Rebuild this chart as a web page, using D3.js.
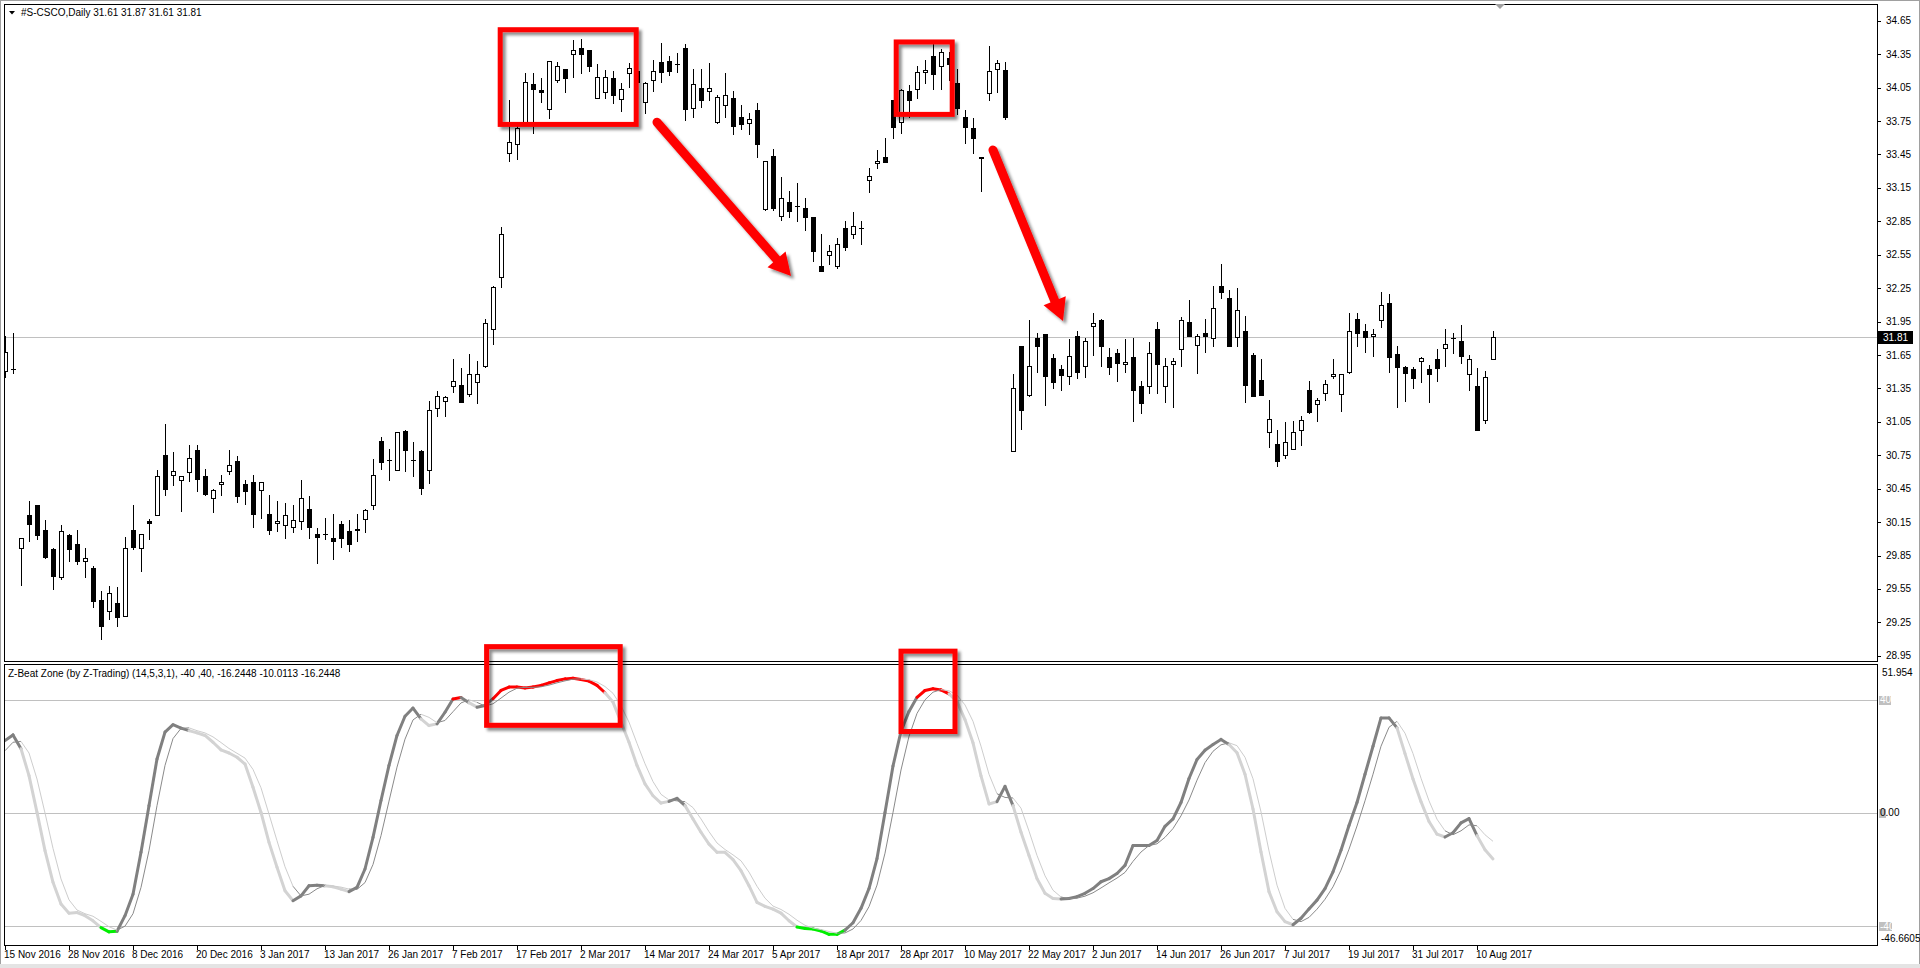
<!DOCTYPE html>
<html>
<head>
<meta charset="utf-8">
<script src="https://cdn.jsdelivr.net/npm/d3@7"></script>
<style>
    html, body {margin: 0; padding: 0; background: #fff;}
    svg {display: block;}
    text {font-family: "Liberation Sans", Arial, sans-serif; font-size: 10px; fill: #000;}
</style>
</head>
<body>
<svg id="chart" width="1920" height="968"></svg>
<script>
// #S-CSCO daily candles, 15 Nov 2016 .. 14 Aug 2017
const opens = [
    31.51, 31.52, 29.92, 30.21, 30.30, 30.08, 29.91, 29.66, 30.03, 29.95,
    29.80, 29.74, 29.45, 29.35, 29.42, 29.31, 30.08, 29.92, 30.16, 30.21,
    30.75, 30.57, 30.53, 30.60, 30.80, 30.56, 30.37, 30.49, 30.61, 30.70,
    30.49, 30.51, 30.44, 30.22, 30.14, 30.12, 30.11, 30.16, 30.27, 30.04,
    30.04, 30.01, 30.13, 30.07, 30.09, 30.18, 30.30, 30.88, 30.71, 30.62,
    30.97, 30.71, 30.79, 30.62, 31.17, 31.24, 31.37, 31.38, 31.30, 31.41,
    31.55, 31.88, 32.35, 33.46, 33.54, 33.73, 34.08, 34.03, 33.86, 34.12,
    34.22, 34.35, 34.41, 34.39, 33.96, 34.01, 34.14, 33.95, 34.18, 34.20,
    33.92, 34.12, 34.28, 34.29, 34.26, 34.41, 33.87, 34.05, 34.02, 33.74,
    33.89, 33.96, 33.79, 33.73, 33.85, 32.96, 33.44, 32.90, 33.02, 32.99,
    32.97, 32.89, 32.45, 32.55, 32.45, 32.79, 32.74, 32.79, 33.22, 33.37,
    33.43, 33.94, 33.74, 34.02, 34.04, 34.19, 34.33, 34.24, 34.32, 34.09,
    33.79, 33.69, 33.43, 34.00, 34.22, 34.21, 30.79, 31.73, 31.29, 31.80,
    31.84, 31.62, 31.52, 31.46, 31.82, 31.55, 31.91, 31.96, 31.63, 31.67,
    31.57, 31.63, 31.37, 31.37, 31.88, 31.37, 31.57, 31.70, 31.95, 31.74,
    31.85, 31.80, 32.27, 32.16, 31.81, 31.87, 31.65, 31.43, 30.96, 30.85,
    30.75, 30.81, 30.98, 31.34, 31.21, 31.31, 31.46, 31.30, 31.50, 31.97,
    31.87, 31.82, 31.96, 32.12, 31.66, 31.54, 31.52, 31.60, 31.52, 31.61,
    31.71, 31.80, 31.78, 31.48, 31.37, 31.07, 31.61
];
const highs = [
    31.82, 31.85, 30.01, 30.34, 30.30, 30.17, 29.92, 30.12, 30.04, 30.08,
    29.92, 29.76, 29.53, 29.58, 29.57, 30.02, 30.30, 30.04, 30.18, 30.62,
    31.03, 30.78, 30.56, 30.84, 30.84, 30.63, 30.45, 30.57, 30.80, 30.74,
    30.53, 30.57, 30.51, 30.39, 30.34, 30.32, 30.30, 30.53, 30.38, 30.10,
    30.19, 30.22, 30.16, 30.17, 30.22, 30.27, 30.72, 30.91, 30.81, 30.96,
    30.98, 30.87, 30.80, 31.24, 31.33, 31.28, 31.61, 31.53, 31.66, 31.60,
    31.97, 32.27, 32.80, 33.94, 33.74, 34.18, 34.18, 34.14, 34.29, 34.28,
    34.22, 34.48, 34.49, 34.39, 34.26, 34.21, 34.20, 34.09, 34.27, 34.23,
    34.10, 34.30, 34.45, 34.33, 34.36, 34.44, 34.22, 34.22, 34.27, 33.98,
    34.18, 34.02, 33.89, 33.82, 33.91, 33.39, 33.50, 33.25, 33.12, 33.19,
    33.06, 32.89, 32.74, 32.64, 32.70, 32.85, 32.93, 32.85, 33.33, 33.49,
    33.60, 33.94, 34.04, 34.07, 34.24, 34.30, 34.45, 34.40, 34.37, 34.22,
    33.85, 33.78, 33.43, 34.42, 34.30, 34.28, 31.48, 31.73, 31.96, 31.85,
    31.84, 31.66, 31.56, 31.79, 31.87, 31.80, 32.03, 31.97, 31.71, 31.70,
    31.79, 31.80, 31.42, 31.77, 31.95, 31.62, 31.62, 31.99, 32.14, 31.84,
    31.97, 32.27, 32.47, 32.23, 32.25, 32.00, 31.67, 31.61, 31.25, 30.98,
    31.05, 31.06, 31.10, 31.42, 31.26, 31.43, 31.61, 31.48, 32.03, 32.03,
    31.93, 31.88, 32.22, 32.20, 31.73, 31.55, 31.54, 31.63, 31.56, 31.70,
    31.88, 31.85, 31.92, 31.65, 31.53, 31.51, 31.87
];
const lows = [
    31.45, 31.49, 29.59, 29.98, 30.00, 29.83, 29.55, 29.64, 29.80, 29.77,
    29.66, 29.39, 29.10, 29.28, 29.22, 29.31, 29.91, 29.71, 30.00, 30.21,
    30.39, 30.48, 30.25, 30.52, 30.43, 30.39, 30.24, 30.39, 30.58, 30.33,
    30.31, 30.11, 30.19, 30.04, 30.07, 30.01, 30.06, 30.09, 30.01, 29.78,
    30.00, 29.82, 29.93, 29.89, 29.98, 30.06, 30.27, 30.63, 30.53, 30.62,
    30.61, 30.56, 30.40, 30.50, 31.10, 31.10, 31.32, 31.23, 31.28, 31.22,
    31.54, 31.75, 32.26, 33.39, 33.41, 33.73, 33.64, 33.92, 33.78, 34.10,
    34.01, 34.15, 34.18, 34.20, 33.96, 33.96, 33.91, 33.84, 34.06, 34.05,
    33.82, 34.02, 34.10, 34.16, 34.19, 33.76, 33.79, 33.88, 33.94, 33.73,
    33.79, 33.63, 33.68, 33.63, 33.43, 32.95, 32.95, 32.86, 32.89, 32.85,
    32.77, 32.49, 32.40, 32.47, 32.43, 32.59, 32.70, 32.65, 33.11, 33.33,
    33.38, 33.60, 33.64, 33.79, 33.96, 34.09, 34.04, 34.04, 34.12, 33.81,
    33.55, 33.46, 33.12, 33.94, 34.01, 33.77, 30.79, 30.99, 31.28, 31.50,
    31.20, 31.35, 31.34, 31.39, 31.44, 31.45, 31.65, 31.55, 31.48, 31.42,
    31.50, 31.06, 31.13, 31.31, 31.31, 31.23, 31.18, 31.55, 31.82, 31.49,
    31.68, 31.73, 32.16, 31.73, 31.73, 31.23, 31.28, 31.29, 30.82, 30.65,
    30.73, 30.81, 30.84, 31.13, 31.06, 31.25, 31.44, 31.15, 31.49, 31.73,
    31.68, 31.64, 31.90, 31.50, 31.18, 31.24, 31.35, 31.41, 31.23, 31.42,
    31.55, 31.67, 31.58, 31.34, 30.98, 31.04, 31.61
];
const closes = [
    31.68, 31.52, 30.01, 30.13, 30.03, 29.84, 29.67, 30.07, 29.91, 29.80,
    29.83, 29.44, 29.22, 29.51, 29.30, 29.92, 29.93, 30.04, 30.14, 30.56,
    30.45, 30.61, 30.56, 30.73, 30.54, 30.40, 30.44, 30.51, 30.66, 30.38,
    30.43, 30.22, 30.51, 30.08, 30.16, 30.21, 30.17, 30.37, 30.11, 30.02,
    30.04, 29.98, 30.01, 29.95, 30.08, 30.26, 30.57, 30.69, 30.71, 30.96,
    30.80, 30.71, 30.46, 31.16, 31.28, 31.27, 31.42, 31.23, 31.48, 31.48,
    31.94, 32.26, 32.74, 33.56, 33.69, 34.10, 34.04, 34.01, 34.29, 34.24,
    34.14, 34.39, 34.35, 34.24, 34.15, 34.15, 33.98, 34.04, 34.23, 34.10,
    34.09, 34.20, 34.19, 34.20, 34.26, 33.86, 34.08, 33.94, 34.05, 33.97,
    33.98, 33.71, 33.72, 33.77, 33.54, 33.39, 32.97, 33.06, 32.94, 32.99,
    32.89, 32.58, 32.40, 32.58, 32.65, 32.62, 32.81, 32.79, 33.26, 33.39,
    33.38, 33.70, 34.03, 33.94, 34.19, 34.21, 34.17, 34.37, 34.26, 33.87,
    33.70, 33.60, 33.42, 34.20, 34.27, 33.79, 31.35, 31.16, 31.55, 31.73,
    31.46, 31.41, 31.47, 31.64, 31.50, 31.78, 31.94, 31.73, 31.54, 31.58,
    31.59, 31.34, 31.22, 31.67, 31.57, 31.55, 31.60, 31.96, 31.82, 31.82,
    31.82, 32.07, 32.22, 31.73, 32.05, 31.38, 31.28, 31.29, 31.08, 30.70,
    30.87, 30.96, 31.07, 31.14, 31.25, 31.39, 31.48, 31.48, 31.87, 31.85,
    31.81, 31.84, 32.10, 31.63, 31.54, 31.49, 31.44, 31.62, 31.48, 31.53,
    31.75, 31.80, 31.64, 31.61, 30.98, 31.45, 31.81
];

// Z-Beat Zone (14,5,3,1): main line and its signal line
const zMain = [
    25.6, 27.6, 22.7, 13.2, 0.2, -13.3, -24.5, -32.2, -35.4, -35.2,
    -36.3, -38.1, -40.5, -42.0, -41.8, -36.3, -28.7, -13.9, 2.6, 19.1,
    28.6, 31.2, 30.0, 29.1, 28.3, 27.4, 25.0, 22.3, 21.2, 19.7,
    17.3, 9.1, 0.2, -10.4, -19.2, -27.5, -31.0, -29.3, -25.7, -25.5,
    -25.7, -26.1, -26.9, -27.8, -26.3, -19.8, -8.6, 4.4, 16.8, 27.4,
    34.2, 37.1, 33.3, 30.9, 31.5, 35.6, 40.3, 40.8, 39.0, 37.4,
    38.0, 40.4, 43.3, 44.5, 44.5, 44.2, 44.5, 45.1, 46.0, 46.8,
    47.4, 47.6, 47.2, 46.6, 45.1, 42.5, 39.2, 32.1, 25.0, 16.8,
    10.3, 6.1, 3.5, 4.1, 5.2, 2.6, -2.1, -6.8, -11.0, -13.9,
    -13.9, -16.5, -20.4, -25.7, -31.6, -33.0, -34.0, -35.4, -38.1, -40.3,
    -40.8, -41.0, -41.7, -42.9, -42.9, -41.4, -38.8, -33.7, -26.7, -16.1,
    0.2, 16.6, 28.9, 35.9, 40.9, 43.3, 43.9, 43.5, 42.1, 39.4,
    33.0, 24.8, 13.1, 3.2, 4.0, 9.4, 2.6, -6.8, -15.0, -23.2,
    -28.4, -30.2, -30.4, -30.2, -29.6, -28.4, -26.7, -24.3, -23.2, -21.4,
    -18.5, -11.5, -11.5, -11.5, -9.7, -4.7, -2.1, 3.7, 12.2, 18.9,
    22.2, 24.2, 26.0, 24.2, 21.3, 13.7, 1.4, -13.8, -27.8, -34.9,
    -38.4, -39.5, -37.2, -33.9, -30.8, -26.7, -20.8, -13.2, -4.4, 3.7,
    13.7, 23.6, 33.6, 33.6, 30.1, 21.0, 12.0, 4.0, -3.0, -7.5,
    -8.5, -7.0, -3.5, -2.0, -8.0, -13.0, -16.2448
];
const zSignal = [
    22.0, 25.0, 25.3, 21.2, 12.0, 0.0, -12.5, -23.3, -30.7, -34.3,
    -35.6, -36.5, -38.3, -40.2, -41.4, -40.0, -35.6, -26.3, -13.3, 2.6,
    16.8, 26.3, 29.9, 30.1, 29.1, 28.3, 26.9, 24.9, 22.8, 21.1,
    19.4, 15.4, 8.9, -0.4, -9.8, -19.0, -25.9, -29.3, -28.7, -26.8,
    -25.6, -25.8, -26.2, -26.9, -27.0, -24.6, -18.2, -8.0, 4.2, 16.2,
    26.1, 32.9, 34.9, 33.8, 31.9, 32.7, 35.8, 38.9, 40.0, 39.1,
    37.8, 38.6, 40.6, 42.7, 44.1, 44.4, 44.4, 44.6, 45.2, 46.0,
    46.7, 47.3, 47.4, 47.1, 46.3, 44.7, 42.3, 37.9, 32.1, 24.6,
    17.4, 11.1, 6.6, 4.6, 4.3, 4.0, 1.9, -2.1, -6.6, -10.6,
    -12.9, -14.8, -16.9, -20.9, -25.9, -30.1, -32.9, -34.1, -35.8, -37.9,
    -39.7, -40.7, -41.2, -41.9, -42.5, -42.4, -41.0, -38.0, -33.1, -25.5,
    -14.2, 0.2, 15.2, 27.1, 35.2, 40.0, 42.7, 43.6, 43.2, 41.7,
    38.2, 32.4, 23.6, 13.7, 6.8, 5.5, 5.3, 1.7, -6.4, -15.0,
    -22.2, -27.3, -29.7, -30.3, -30.1, -29.4, -28.2, -26.5, -24.7, -23.0,
    -21.0, -17.1, -13.8, -11.5, -10.9, -8.6, -5.5, -1.0, 4.6, 11.6,
    17.8, 21.8, 24.1, 24.8, 23.8, 19.7, 12.1, 0.4, -13.4, -25.5,
    -33.7, -37.6, -38.4, -36.9, -34.0, -30.5, -26.1, -20.2, -12.8, -4.6,
    4.3, 13.7, 23.6, 30.3, 32.4, 28.2, 21.0, 12.3, 4.3, -2.2,
    -6.3, -7.7, -6.3, -4.2, -4.5, -7.7, -10.0113
];
const zLevels = [40, 0, -40];

const priceTicks = [34.65, 34.35, 34.05, 33.75, 33.45, 33.15, 32.85, 32.55, 32.25, 31.95,
    31.65, 31.35, 31.05, 30.75, 30.45, 30.15, 29.85, 29.55, 29.25, 28.95];
const dateLabels = ["15 Nov 2016", "28 Nov 2016", "8 Dec 2016", "20 Dec 2016", "3 Jan 2017",
    "13 Jan 2017", "26 Jan 2017", "7 Feb 2017", "17 Feb 2017", "2 Mar 2017", "14 Mar 2017",
    "24 Mar 2017", "5 Apr 2017", "18 Apr 2017", "28 Apr 2017", "10 May 2017", "22 May 2017",
    "2 Jun 2017", "14 Jun 2017", "26 Jun 2017", "7 Jul 2017", "19 Jul 2017", "31 Jul 2017",
    "10 Aug 2017"];
const barsPerLabel = 8;

// hand drawn markup, in bar index / price (or indicator value) units
const priceBoxes = [
    {i0: 61.9, i1: 78.9, p0: 34.57, p1: 33.72},
    {i0: 111.4, i1: 118.4, p0: 34.46, p1: 33.81}
];
const priceArrows = [
    {i0: 81.5, p0: 33.74, i1: 98.25, p1: 32.36},
    {i0: 123.5, p0: 33.49, i1: 132.25, p1: 31.955}
];
const zoneBoxes = [
    {i0: 60.2, i1: 76.9, v0: 58.8, v1: 31.0},
    {i0: 112.0, i1: 118.75, v0: 57.2, v1: 28.8}
];

const n = closes.length;
const svg = d3.select("#chart");
const frame = {left: 4, right: 1877, mainTop: 4, mainBottom: 661, indTop: 664, indBottom: 945};

const x = d3.scaleLinear().domain([0, n - 1]).range([5, 5 + 8 * (n - 1)]);
const y = d3.scaleLinear().domain([28.95, 34.65]).range([655.8, 20.8]);
const yz = d3.scaleLinear().domain([-46.6605, 51.954]).range([945, 666]);
const crisp = v => Math.round(v) + 0.5;

const defs = svg.append("defs");
defs.append("clipPath").attr("id", "clipMain").append("rect")
    .attr("x", frame.left + 1).attr("y", frame.mainTop + 1)
    .attr("width", frame.right - frame.left - 1).attr("height", frame.mainBottom - frame.mainTop - 1);
defs.append("clipPath").attr("id", "clipInd").append("rect")
    .attr("x", frame.left + 1).attr("y", frame.indTop + 1)
    .attr("width", frame.right - frame.left - 1).attr("height", frame.indBottom - frame.indTop - 1);
defs.append("filter").attr("id", "shadow")
    .attr("x", "-20%").attr("y", "-20%").attr("width", "140%").attr("height", "140%")
    .append("feDropShadow")
    .attr("dx", 3).attr("dy", 3).attr("stdDeviation", 1.8)
    .attr("flood-color", "#000").attr("flood-opacity", 0.45);

// window chrome
svg.append("rect").attr("x", 0.5).attr("y", 0.5).attr("width", 1919).attr("height", 967)
    .attr("fill", "none").attr("stroke", "#a0a0a0");
svg.append("rect").attr("x", 0).attr("y", 964).attr("width", 1920).attr("height", 4).attr("fill", "#e4e4e4");

// panel frames
svg.append("rect").attr("x", frame.left + 0.5).attr("y", frame.mainTop + 0.5)
    .attr("width", frame.right - frame.left).attr("height", frame.mainBottom - frame.mainTop)
    .attr("fill", "none").attr("stroke", "#000");
svg.append("rect").attr("x", frame.left + 0.5).attr("y", frame.indTop + 0.5)
    .attr("width", frame.right - frame.left).attr("height", frame.indBottom - frame.indTop)
    .attr("fill", "none").attr("stroke", "#000");

// chart shift marker
svg.append("path").attr("d", "M1495,4 L1505,4 L1500,9 Z").attr("fill", "#a0a0a0");

// ---- price panel
const main = svg.append("g").attr("clip-path", "url(#clipMain)");
const lastClose = closes[n - 1];
main.append("line")
    .attr("x1", frame.left).attr("x2", frame.right)
    .attr("y1", crisp(y(lastClose))).attr("y2", crisp(y(lastClose)))
    .attr("stroke", "#c0c0c0");

const candles = d3.range(n).map(i => ({i: i, o: opens[i], h: highs[i], l: lows[i], c: closes[i]}));

main.selectAll("line.wick").data(candles).join("line")
    .attr("class", "wick")
    .attr("x1", d => crisp(x(d.i))).attr("x2", d => crisp(x(d.i)))
    .attr("y1", d => Math.round(y(d.h))).attr("y2", d => Math.round(y(d.l)) + 1)
    .attr("stroke", "#000");

main.selectAll("rect.up").data(candles.filter(d => d.c > d.o)).join("rect")
    .attr("class", "up")
    .attr("x", d => Math.round(x(d.i)) - 1.5).attr("width", 4)
    .attr("y", d => Math.round(y(d.c)) + 0.5)
    .attr("height", d => Math.max(1, Math.round(y(d.o)) - Math.round(y(d.c))))
    .attr("fill", "#fff").attr("stroke", "#000");

main.selectAll("rect.down").data(candles.filter(d => d.c < d.o)).join("rect")
    .attr("class", "down")
    .attr("x", d => Math.round(x(d.i)) - 2).attr("width", 5)
    .attr("y", d => Math.round(y(d.o)))
    .attr("height", d => Math.max(2, Math.round(y(d.c)) - Math.round(y(d.o)) + 1))
    .attr("fill", "#000");

main.selectAll("line.doji").data(candles.filter(d => d.c === d.o)).join("line")
    .attr("class", "doji")
    .attr("x1", d => Math.round(x(d.i)) - 2).attr("x2", d => Math.round(x(d.i)) + 3)
    .attr("y1", d => crisp(y(d.o))).attr("y2", d => crisp(y(d.o)))
    .attr("stroke", "#000");

// price scale
const pAxis = svg.append("g");
pAxis.selectAll("line").data(priceTicks).join("line")
    .attr("x1", frame.right + 1).attr("x2", frame.right + 4)
    .attr("y1", d => crisp(y(d))).attr("y2", d => crisp(y(d)))
    .attr("stroke", "#000");
pAxis.selectAll("text").data(priceTicks).join("text")
    .attr("x", frame.right + 9).attr("y", d => y(d)).attr("dy", "0.35em")
    .text(d => d.toFixed(2));

svg.append("rect").attr("x", frame.right + 1).attr("y", Math.round(y(lastClose)) - 6)
    .attr("width", 35).attr("height", 13).attr("fill", "#000");
svg.append("text").attr("x", frame.right + 6).attr("y", y(lastClose)).attr("dy", "0.36em")
    .style("fill", "#fff").text(lastClose.toFixed(2));

// header
svg.append("path").attr("d", "M9,11 L15,11 L12,14.5 Z").attr("fill", "#000");
svg.append("text").attr("x", 21).attr("y", 16)
    .text("#S-CSCO,Daily  " + [opens[n - 1], highs[n - 1], lows[n - 1], closes[n - 1]].map(v => v.toFixed(2)).join(" "));

// ---- indicator panel
const ind = svg.append("g").attr("clip-path", "url(#clipInd)");
ind.selectAll("line.level").data(zLevels).join("line")
    .attr("class", "level")
    .attr("x1", frame.left).attr("x2", frame.right)
    .attr("y1", d => crisp(yz(d))).attr("y2", d => crisp(yz(d)))
    .attr("stroke", "#c0c0c0");

const segs = d3.range(n - 1).map(i => ({
    i: i, a: zMain[i], b: zMain[i + 1], sa: zSignal[i], sb: zSignal[i + 1]
}));
const rising = d => d.a >= d.sa || d.b >= d.sb;

function mainColor(d) {
    if (d.a > 40 && d.b > 40) return "#ff0000";
    if (d.a < -40 && d.b < -40) return "#00ee00";
    return rising(d) ? "#808080" : "#d3d3d3";
}

ind.selectAll("line.main").data(segs).join("line")
    .attr("class", "main")
    .attr("x1", d => x(d.i)).attr("x2", d => x(d.i + 1))
    .attr("y1", d => yz(d.a)).attr("y2", d => yz(d.b))
    .attr("stroke", mainColor).attr("stroke-width", 3).attr("stroke-linecap", "round");

ind.selectAll("line.signal").data(segs).join("line")
    .attr("class", "signal")
    .attr("x1", d => x(d.i)).attr("x2", d => x(d.i + 1))
    .attr("y1", d => yz(d.sa)).attr("y2", d => yz(d.sb))
    .attr("stroke", d => rising(d) ? "#8a8a8a" : "#cdcdcd").attr("stroke-width", 1);

svg.append("text").attr("x", 8).attr("y", 677)
    .text("Z-Beat Zone (by Z-Trading) (14,5,3,1), -40 ,40, " +
        zMain[n - 1].toFixed(4) + " " + zSignal[n - 1].toFixed(4) + " " + zMain[n - 1].toFixed(4));

// indicator scale
const zAxis = svg.append("g");
zAxis.append("text").attr("x", frame.right + 5).attr("y", yz(51.954) + 6).attr("dy", "0.35em").text("51.954");
zAxis.append("text").attr("x", frame.right + 4).attr("y", yz(-46.6605) - 7).attr("dy", "0.35em").text("-46.6605");
zLevels.forEach(v => {
    let label = v === 0 ? "0" : String(v);
    let w = v === 0 ? 7 : (v < 0 ? 13 : 12);
    zAxis.append("rect").attr("x", frame.right + 2).attr("y", Math.round(yz(v)) - 4)
        .attr("width", w).attr("height", 9).attr("fill", "#c0c0c0");
    if (v === 0) {
        zAxis.append("text").attr("x", frame.right + 3).attr("y", yz(v)).attr("dy", "0.35em").text("0.00");
    } else {
        zAxis.append("text").attr("x", frame.right + 3).attr("y", yz(v)).attr("dy", "0.35em")
            .style("fill", "#fff").text(label);
    }
});

// time scale
const tAxis = svg.append("g");
tAxis.selectAll("line").data(dateLabels).join("line")
    .attr("x1", (d, k) => crisp(x(k * barsPerLabel))).attr("x2", (d, k) => crisp(x(k * barsPerLabel)))
    .attr("y1", frame.indBottom + 1).attr("y2", frame.indBottom + 5)
    .attr("stroke", "#000");
tAxis.selectAll("text").data(dateLabels).join("text")
    .attr("x", (d, k) => x(k * barsPerLabel) - 1).attr("y", 958)
    .text(d => d);

// ---- red markup
const marks = svg.append("g").attr("filter", "url(#shadow)");
marks.selectAll("rect.pbox").data(priceBoxes).join("rect")
    .attr("class", "pbox")
    .attr("x", d => x(d.i0)).attr("y", d => y(d.p0))
    .attr("width", d => x(d.i1) - x(d.i0)).attr("height", d => y(d.p1) - y(d.p0))
    .attr("fill", "none").attr("stroke", "#ff0000").attr("stroke-width", 5);
marks.selectAll("rect.zbox").data(zoneBoxes).join("rect")
    .attr("class", "zbox")
    .attr("x", d => x(d.i0)).attr("y", d => yz(d.v0))
    .attr("width", d => x(d.i1) - x(d.i0)).attr("height", d => yz(d.v1) - yz(d.v0))
    .attr("fill", "none").attr("stroke", "#ff0000").attr("stroke-width", 5);

priceArrows.forEach(a => {
    let x0 = x(a.i0), y0 = y(a.p0), x1 = x(a.i1), y1 = y(a.p1);
    let len = Math.hypot(x1 - x0, y1 - y0);
    let ux = (x1 - x0) / len, uy = (y1 - y0) / len;
    let headLen = 22, headHalf = 12;
    let bx = x1 - ux * headLen, by = y1 - uy * headLen;
    let g = marks.append("g");
    g.append("line").attr("x1", x0).attr("y1", y0).attr("x2", bx + ux * 2).attr("y2", by + uy * 2)
        .attr("stroke", "#ff0000").attr("stroke-width", 9).attr("stroke-linecap", "round");
    g.append("path")
        .attr("d", "M" + x1 + "," + y1 +
            " L" + (bx - uy * headHalf) + "," + (by + ux * headHalf) +
            " L" + (bx + uy * headHalf) + "," + (by - ux * headHalf) + " Z")
        .attr("fill", "#ff0000");
});
</script>
</body>
</html>
